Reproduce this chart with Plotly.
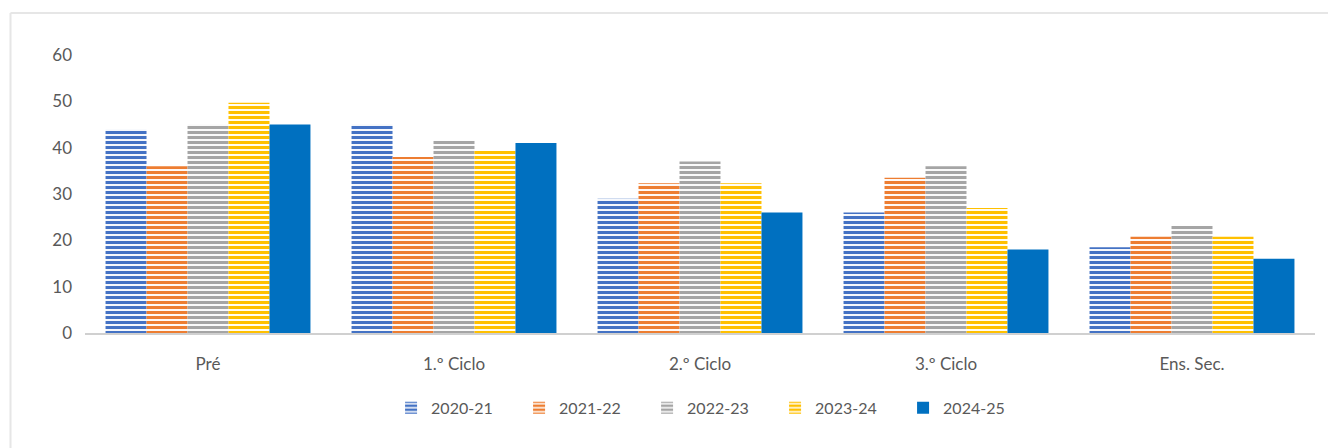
import plotly.graph_objects as go

categories = ["Pré", "1.º Ciclo", "2.º Ciclo", "3.º Ciclo", "Ens. Sec."]
series_names = ["2020-21", "2021-22", "2022-23", "2023-24", "2024-25"]
v2020 = [44, 45, 29, 26, 18.5]
v2021 = [36, 38, 32.3, 33.5, 20.8]
v2022 = [45, 41.5, 37, 36, 23.1]
v2023 = [49.7, 39.3, 32.3, 27, 20.8]
v2024 = [45, 41, 26, 18, 16]
values = [v2020, v2021, v2022, v2023, v2024]
colors = ["#4472C4", "#ED7D31", "#A5A5A5", "#FFC000", "#0070C0"]
patterned = [True, True, True, True, False]
y_ticks = [0, 10, 20, 30, 40, 50, 60]

fig = go.Figure()
for name, vals, col, pat in zip(series_names, values, colors, patterned):
    marker = dict(color=col, line=dict(width=0))
    if pat:
        marker["pattern"] = dict(shape="-", fgcolor=col, bgcolor="#ffffff",
                                 fgopacity=1, size=5, solidity=0.62,
                                 fillmode="replace")
    fig.add_trace(go.Bar(name=name, x=categories, y=vals, marker=marker))

# page offset (body margin) is 8 px
OFF = 8
W, H = 1336 - OFF, 448 - OFF
L, R, T = 85 - OFF, 21, 55 - OFF
B = H - (333 - OFF)
pw, ph = W - L - R, H - T - B

fig.update_layout(
    width=W, height=H,
    margin=dict(l=L, r=R, t=T, b=B, pad=0),
    paper_bgcolor="white", plot_bgcolor="white",
    barmode="group", bargap=0.167, bargroupgap=0,
    font=dict(family="Lato, sans-serif", size=16, color="#595959"),
    legend=dict(orientation="h", x=0.509, xanchor="center", y=-0.208, yanchor="top",
                font=dict(size=16, color="#595959"), itemwidth=30,
                entrywidth=83, tracegroupgap=0),
    xaxis=dict(showgrid=False, showline=True, linecolor="#D0D0D0", linewidth=1.5,
               ticks="", tickfont=dict(size=17), ticklabelstandoff=15),
    yaxis=dict(range=[0, 60], tickvals=y_ticks, showgrid=False, zeroline=False,
               showline=False, ticks="", ticklabelstandoff=12, tickfont=dict(size=17)),
    shapes=[
        dict(type="line", xref="paper", yref="paper",
             x0=(10.5 - 85) / pw, x1=(1340 - 85) / pw,
             y0=(333 - 13) / ph, y1=(333 - 13) / ph,
             line=dict(color="#E6E6E6", width=2)),
        dict(type="line", xref="paper", yref="paper",
             x0=(10.5 - 85) / pw, x1=(10.5 - 85) / pw,
             y0=(333 - 13) / ph, y1=-(B + 5) / ph,
             line=dict(color="#E6E6E6", width=2)),
    ],
)

fig.write_html("out.html")
